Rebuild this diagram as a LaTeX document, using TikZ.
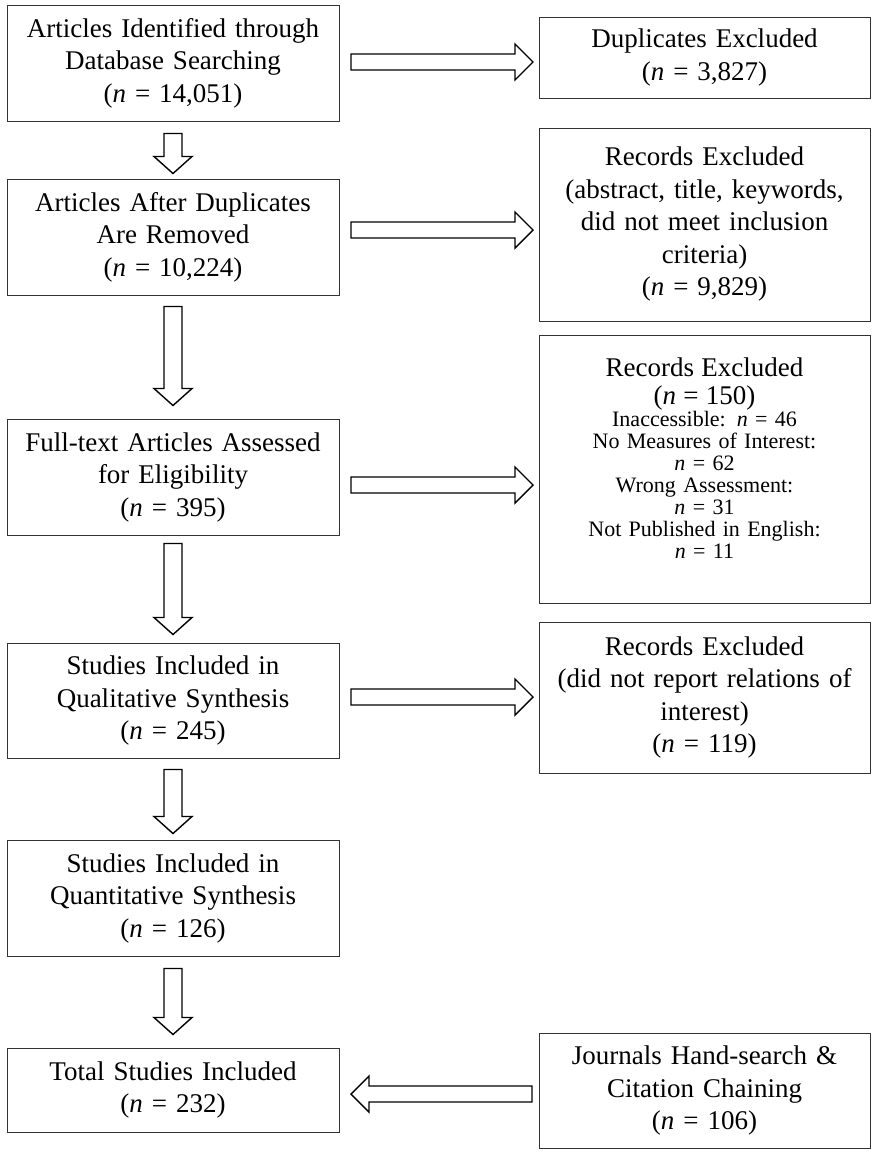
\documentclass[tikz,border=0pt]{standalone}
\usepackage{fontspec}
\setmainfont{Liberation Serif}
\usetikzlibrary{calc}
\newcommand\DArr[2]{\draw[blk] let \p1=(#1), \p2=(#2) in (\x1-9pt,\y1) -- (\x1-9pt,\y2+17pt) -- (\x1-19pt,\y2+17pt) -- (\x1,\y2) -- (\x1+19pt,\y2+17pt) -- (\x1+9pt,\y2+17pt) -- (\x1+9pt,\y1) -- cycle;}
\newcommand\RArr[2]{\draw[blk] let \p1=(#1), \p2=(#2) in (\x1,\y1+8pt) -- (\x2-18pt,\y1+8pt) -- (\x2-18pt,\y1+18pt) -- (\x2,\y1) -- (\x2-18pt,\y1-18pt) -- (\x2-18pt,\y1-8pt) -- (\x1,\y1-8pt) -- cycle;}
\newcommand\LArr[2]{\draw[blk] let \p1=(#1), \p2=(#2) in (\x1,\y1+8pt) -- (\x2+18pt,\y1+8pt) -- (\x2+18pt,\y1+18pt) -- (\x2,\y1) -- (\x2+18pt,\y1-18pt) -- (\x2+18pt,\y1-8pt) -- (\x1,\y1-8pt) -- cycle;}
\begin{document}
\begin{tikzpicture}[x=1pt,y=-1pt,
  box/.style={draw=black!80, line width=1pt, align=center, inner sep=0pt, font=\fontsize{27}{32.5}\selectfont},
  lbox/.style={box, minimum width=332pt, text width=326pt},
  rbox/.style={box, minimum width=331pt, text width=325pt},
  blk/.style={draw=black, line width=1.4pt, fill=white, line join=miter}]
\useasboundingbox[fill=white] (0,0) rectangle (871,1152);
% left column
\node[lbox, minimum height=116pt] (b1) at (173,63) {Articles Identified through\\Database Searching\\(\textit{n} = 14,051)};
\node[lbox, minimum height=116pt] (b2) at (173,237) {Articles After Duplicates\\Are Removed\\(\textit{n} = 10,224)};
\node[lbox, minimum height=116pt] (b3) at (173,477) {Full-text Articles Assessed\\for Eligibility\\(\textit{n} = 395)};
\node[lbox, minimum height=115pt] (b4) at (173,700.5) {Studies Included in\\Qualitative Synthesis\\(\textit{n} = 245)};
\node[lbox, minimum height=116pt] (b5) at (173,898) {Studies Included in\\Quantitative Synthesis\\(\textit{n} = 126)};
\node[lbox, minimum height=84pt] (b6) at (173,1090) {Total Studies Included\\(\textit{n} = 232)};
% right column
\node[rbox, minimum height=81pt] (r1) at (704.5,57.5) {Duplicates Excluded\\(\textit{n} = 3,827)};
\node[rbox, minimum height=193pt] (r2) at (704.5,224.5) {Records Excluded\\(abstract, title, keywords,\\did not meet inclusion\\criteria)\\(\textit{n} = 9,829)};
\node[rbox, minimum height=268pt] (r3) at (704.5,469) {};
\node[align=center, inner sep=0pt, text width=325pt, font=\fontsize{22}{22}\selectfont] (r3t) at (704.5,458) {{\fontsize{27}{28}\selectfont Records Excluded\\(\textit{n} = 150)\par}
  {\fontsize{22}{22}\selectfont Inaccessible: \textit{n} = 46\\No Measures of Interest:\\\textit{n} = 62\\Wrong Assessment:\\\textit{n} = 31\\Not Published in English:\\\textit{n} = 11\par}};
\node[rbox, minimum height=151pt] (r4) at (704.5,697.5) {Records Excluded\\(did not report relations of\\interest)\\(\textit{n} = 119)};
\node[rbox, minimum height=115pt] (r6) at (704.5,1090.5) {Journals Hand-search \&\\Citation Chaining\\(\textit{n} = 106)};
% down arrows
\DArr{$(b1.south)+(0,12)$}{$(b2.north)+(0,-5)$}
\DArr{$(b2.south)+(0,11)$}{$(b3.north)+(0,-13)$}
\DArr{$(b3.south)+(0,8)$}{$(b4.north)+(0,-8)$}
\DArr{$(b4.south)+(0,11)$}{$(b5.north)+(0,-6)$}
\DArr{$(b5.south)+(0,12)$}{$(b6.north)+(0,-13)$}
% side arrows
\coordinate (a1s) at (351,62);   \coordinate (a1e) at (533,62);
\coordinate (a2s) at (351,230);  \coordinate (a2e) at (533,230);
\coordinate (a3s) at (351,485);  \coordinate (a3e) at (533,485);
\coordinate (a4s) at (351,697);  \coordinate (a4e) at (533,697);
\coordinate (a6s) at (532,1094); \coordinate (a6e) at (351,1094);
\RArr{a1s}{a1e}
\RArr{a2s}{a2e}
\RArr{a3s}{a3e}
\RArr{a4s}{a4e}
\LArr{a6s}{a6e}
\end{tikzpicture}
\end{document}
